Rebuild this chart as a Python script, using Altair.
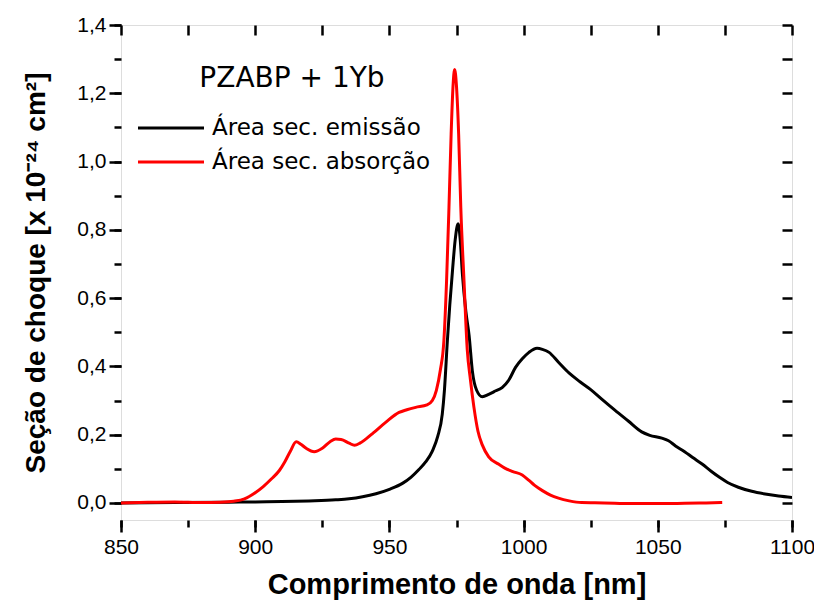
import altair as alt
import pandas as pd

# ---- data ----
em_x = [850, 870, 890, 900, 910, 920, 930, 935, 940, 945, 950, 955, 958, 961, 963.5, 966, 968,
        969.7, 970.5, 971.6, 972.5, 973.5, 974.5, 975.6, 976.4, 977.2, 978.5, 979.7, 980.9,
        982.5, 984.6, 987, 989, 992, 994.5, 997, 999.5, 1002, 1005, 1007, 1009.5, 1013, 1017,
        1021, 1025, 1029, 1034, 1039, 1044, 1047, 1051.5, 1054, 1056.6, 1060, 1063, 1066.5,
        1070, 1073, 1076, 1080, 1085, 1090, 1095, 1100]
em_y = [0.000, 0.001, 0.002, 0.003, 0.004, 0.006, 0.009, 0.012, 0.018, 0.027, 0.040, 0.058,
        0.075, 0.098, 0.120, 0.152, 0.195, 0.260, 0.330, 0.475, 0.580, 0.680, 0.770, 0.818,
        0.770, 0.670, 0.560, 0.490, 0.387, 0.330, 0.311, 0.318, 0.326, 0.338, 0.360, 0.397,
        0.422, 0.441, 0.453, 0.450, 0.441, 0.412, 0.380, 0.355, 0.332, 0.305, 0.272, 0.240,
        0.208, 0.198, 0.190, 0.182, 0.167, 0.150, 0.133, 0.114, 0.092, 0.075, 0.060, 0.046,
        0.034, 0.026, 0.020, 0.016]

ab_x = [850, 860, 870, 880, 887, 892, 896, 900, 903, 906, 909, 911, 913, 915.3, 917, 919, 922,
        925, 928, 930, 932, 935, 937, 939, 941.2, 944, 948.6, 953.6, 956.5, 959.8, 964, 966,
        967.5, 969, 970.3, 971.3, 972.2, 973, 973.7, 974.3, 975, 975.8, 976.6, 977.8, 979,
        980.2, 981.5, 983, 984.6, 987, 990.8, 993, 996, 999.5, 1002, 1004, 1007, 1010, 1013,
        1017, 1021.6, 1030, 1040, 1050, 1060, 1068, 1074]
ab_y = [0.000, 0.002, 0.003, 0.001, 0.002, 0.005, 0.012, 0.030, 0.048, 0.070, 0.095, 0.120,
        0.150, 0.179, 0.172, 0.160, 0.150, 0.160, 0.180, 0.187, 0.186, 0.175, 0.169, 0.175,
        0.187, 0.205, 0.236, 0.265, 0.273, 0.280, 0.287, 0.300, 0.330, 0.390, 0.475, 0.650,
        0.867, 1.080, 1.220, 1.270, 1.220, 1.080, 0.866, 0.650, 0.450, 0.360, 0.280, 0.210,
        0.170, 0.135, 0.113, 0.102, 0.092, 0.082, 0.066, 0.052, 0.036, 0.023, 0.014, 0.006,
        0.001, 0.000, -0.002, -0.002, -0.001, 0.000, 0.001]

SERIES = ["Área sec. emissão", "Área sec. absorção"]
COLORS = ["#000000", "#ff0000"]
LEGEND_TITLE = "PZABP + 1Yb"
X_TITLE = "Comprimento de onda [nm]"
Y_TITLE = "Seção de choque [x 10⁻²⁴ cm²]"

x_major = [850, 900, 950, 1000, 1050, 1100]
x_all = [850, 875, 900, 925, 950, 975, 1000, 1025, 1050, 1075, 1100]
y_major = [0.0, 0.2, 0.4, 0.6, 0.8, 1.0, 1.2, 1.4]
y_all = [0.0, 0.1, 0.2, 0.3, 0.4, 0.5, 0.6, 0.7, 0.8, 0.9, 1.0, 1.1, 1.2, 1.3, 1.4]

df = pd.concat([
    pd.DataFrame({"wl": em_x, "cs": em_y, "serie": SERIES[0]}),
    pd.DataFrame({"wl": ab_x, "cs": ab_y, "serie": SERIES[1]}),
], ignore_index=True)

xscale = alt.Scale(domain=[850, 1100], nice=False, zero=False)
yscale = alt.Scale(domain=[-0.05, 1.4], nice=False, zero=False)

LBL = "Liberation Sans"
common = dict(domain=False, grid=False, tickColor="black", tickWidth=2.5,
              labelColor="black", titleColor="black")

x_main = alt.Axis(values=x_major, format="d", tickSize=12, labelPadding=4, labelFlush=False,
                  labelFont=LBL, labelFontSize=21, title=X_TITLE, titleFont=LBL,
                  titleFontSize=29, titleFontWeight="bold", titlePadding=13, **common)
y_main = alt.Axis(values=y_major, tickSize=12, labelPadding=3, labelFlush=False,
                  labelExpr="replace(format(datum.value, '.1f'), '.', ',')",
                  labelFont=LBL, labelFontSize=21, title=Y_TITLE, titleFont=LBL,
                  titleFontSize=28, titleFontWeight="bold", titlePadding=26, **common)

x_minor = alt.Axis(values=x_all, tickSize=7, labels=False, title="", orient="bottom", **common)
y_minor = alt.Axis(values=y_all, tickSize=7, labels=False, title="", orient="left", **common)
x_top = alt.Axis(values=x_all, tickSize=10, labels=False, title="", orient="top", offset=-10, **common)
y_right = alt.Axis(values=y_all, tickSize=10, labels=False, title="", orient="right", offset=-10, **common)

lines = alt.Chart(df).mark_line(strokeWidth=3, interpolate="monotone", clip=True).encode(
    x=alt.X("wl:Q", scale=xscale, axis=x_main),
    y=alt.Y("cs:Q", scale=yscale, axis=y_main),
    color=alt.Color("serie:N", scale=alt.Scale(domain=SERIES, range=COLORS),
                    legend=alt.Legend(title=LEGEND_TITLE, orient="none", legendX=32, legendY=40,
                                      symbolType="M-2,0L2,0", symbolSize=1089, symbolStrokeWidth=3,
                                      labelFont="DejaVu Sans", labelFontSize=23, labelColor="black",
                                      labelLimit=400,
                                      titleFont="DejaVu Sans", titleFontSize=28, titleFontWeight="normal",
                                      titleColor="black", titleAnchor="middle", titlePadding=17,
                                      titleLimit=400,
                                      rowPadding=4, labelOffset=23, padding=0)),
    order=alt.Order("wl:Q"),
)

ghost_minor = alt.Chart(df).mark_point(opacity=0).encode(
    x=alt.X("wl:Q", scale=xscale, axis=x_minor),
    y=alt.Y("cs:Q", scale=yscale, axis=y_minor),
)
ghost_mirror = alt.Chart(df).mark_point(opacity=0).encode(
    x=alt.X("wl:Q", scale=xscale, axis=x_top),
    y=alt.Y("cs:Q", scale=yscale, axis=y_right),
)

chart = alt.layer(ghost_minor, ghost_mirror, lines).resolve_axis(
    x="independent", y="independent"
).properties(
    width=671, height=495,
    autosize=alt.AutoSizeParams(type="none"),
    padding={"left": 113, "top": 17, "right": 22, "bottom": 82},
).configure_view(stroke="black", strokeWidth=3).configure(background="white")

chart.save("out.html", embed_options={"renderer": "svg", "actions": False})
